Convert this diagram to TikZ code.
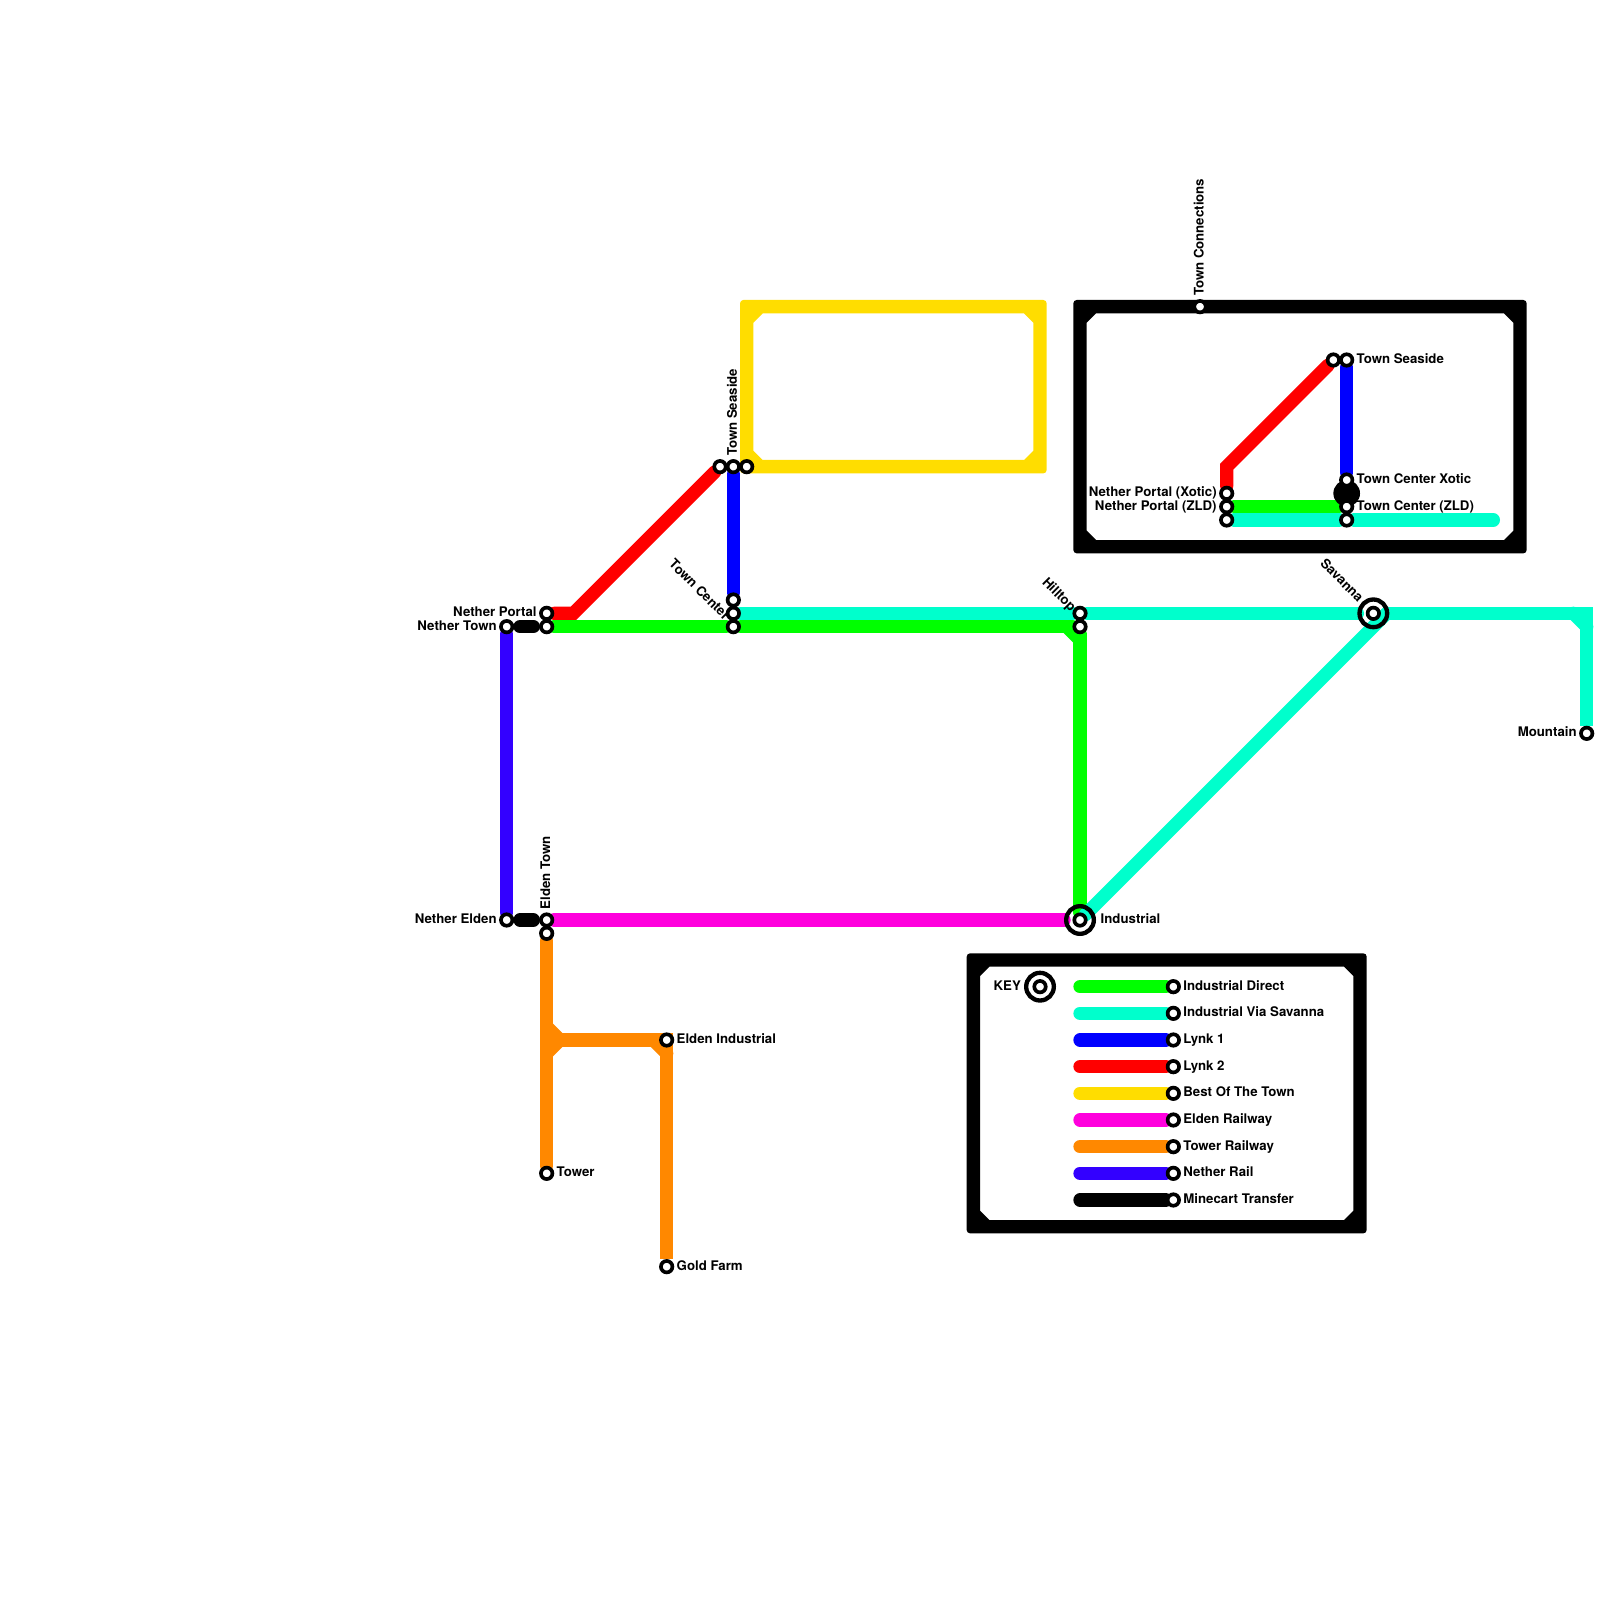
\documentclass[tikz,border=0pt]{standalone}
\usepackage{fontspec}
\setmainfont{TeX Gyre Heros}
\usetikzlibrary{positioning,backgrounds}
\definecolor{linedirect}{HTML}{00FF00}
\definecolor{linevia}{HTML}{00FFCC}
\definecolor{linelynkone}{HTML}{0000FF}
\definecolor{linelynktwo}{HTML}{FF0000}
\definecolor{linebest}{HTML}{FFDD00}
\definecolor{lineelden}{HTML}{FF00DD}
\definecolor{linetower}{HTML}{FF8800}
\definecolor{linenether}{HTML}{3300FF}
\tikzset{
  station/.style={circle,draw=black,fill=white,line width=0.055cm,minimum size=0.172cm,inner sep=0pt},
  bigstation/.style={circle,draw=black,line width=0.065cm,minimum size=0.415cm,inner sep=0pt},
  stationtext/.style={font=\bfseries\fontsize{5.65}{6}\selectfont,inner sep=0pt,text height=4pt,text depth=1pt},
  metroline/.style={line width=2mm,line cap=round,line join=miter},
  framebox/.style={even odd rule,rounded corners=0.05cm},
  node distance=0.03cm,
}

\begin{document}
\begin{tikzpicture}[x=0.2cm,y=-0.2cm]
\useasboundingbox (0,0) rectangle (120,120);

% Nether side
\node[station] (ntown) at (38,47) {};
\node[station] (nelden) at (38,69) {};
\node[station] (nportal) at (41,46) {};
\node[station] (nportalb) at (41,47) {};
\node[station] (etown) at (41,69) {};
\node[station] (etownb) at (41,70) {};
\coordinate (ntransa) at (39,47);
\coordinate (ntransb) at (40,47);
\coordinate (etransa) at (39,69);
\coordinate (etransb) at (40,69);

% Tower railway stops
\node[station] (tower) at (41,88) {};
\node[station] (eind) at (50,78) {};
\node[station] (gold) at (50,95) {};

% Town stops on the main map
\node[station] (tsred) at (54,35) {};
\node[station] (tsblue) at (55,35) {};
\node[station] (tsbest) at (56,35) {};
\node[station] (tcblue) at (55,45) {};
\node[station] (tcvia) at (55,46) {};
\node[station] (tcdirect) at (55,47) {};

% East side
\node[station] (hilla) at (81,46) {};
\node[station] (hillb) at (81,47) {};
\node[station] (indust) at (81,69) {};
\node[bigstation] (industring) at (indust) {};
\node[station] (savanna) at (103,46) {};
\node[bigstation] (savannaring) at (savanna) {};
\node[station] (mountain) at (119,55) {};
\coordinate (viajoin) at (104,46);

% Town connections inset
\node[station] (tconn) at (90,23) {};
\node[station] (npx) at (92,37) {};
\node[station] (npz) at (92,38) {};
\node[station] (npv) at (92,39) {};
\node[station] (isred) at (100,27) {};
\node[station] (isblue) at (101,27) {};
\node[station] (icx) at (101,36) {};
\node[station] (icz) at (101,38) {};
\node[station] (icv) at (101,39) {};
\coordinate (viaend) at (112,39);

% Labels, left side
\node[stationtext,left=of nportal] (nportaltext) {Nether Portal};
\node[stationtext,left=of ntown] (ntowntext) {Nether Town};
\node[stationtext,left=of nelden] (neldentext) {Nether Elden};
\node[stationtext,rotate=90,anchor=west] (etowntext) at ([yshift=0.04cm]etown.north) {Elden Town};
\node[stationtext,right=of tower] (towertext) {Tower};
\node[stationtext,right=of eind] (eindtext) {Elden Industrial};
\node[stationtext,right=of gold] (goldtext) {Gold Farm};
\node[stationtext,rotate=90,anchor=west] (tstext) at ([yshift=0.04cm]tsblue.north) {Town Seaside};
\node[stationtext,rotate=-45,anchor=east] (tctext) at ([shift={(-0.095cm,-0.08cm)}]tcvia.center) {Town Center};
\node[stationtext,rotate=-45,anchor=east] (hilltext) at ([shift={(-0.1cm,0.05cm)}]hilla.center) {Hilltop};
\node[stationtext,rotate=-45,anchor=east] (savtext) at ([shift={(-0.19cm,0.19cm)}]savanna.center) {Savanna};
\node[stationtext,right=0.19cm of indust] (industtext) {Industrial};
\node[stationtext,left=of mountain] (mountaintext) {Mountain};

% Labels, inset
\node[stationtext,rotate=90,anchor=west] (tconntext) at ([yshift=0.04cm]tconn.north) {Town Connections};
\node[stationtext,left=of npx] (npxtext) {Nether Portal (Xotic)};
\node[stationtext,left=of npz] (npztext) {Nether Portal (ZLD)};
\node[stationtext,right=of isblue] (isbluetext) {Town Seaside};
\node[stationtext,right=of icx] (icxtext) {Town Center Xotic};
\node[stationtext,right=of icz] (icztext) {Town Center (ZLD)};

% Key stations and their names
\node[station] (keyicon) at (78,74) {};
\node[bigstation] (keyring) at (keyicon) {};
\node[stationtext,left=0.04cm of keyring] (keytext) {KEY};
\foreach \name/\row/\txt in {direct/74/Industrial Direct,via/76/Industrial Via Savanna,one/78/Lynk 1,two/80/Lynk 2,best/82/Best Of The Town,elden/84/Elden Railway,tow/86/Tower Railway,neth/88/Nether Rail,cart/90/Minecart Transfer} {
  \coordinate (k\name) at (81,\row);
  \node[station] (s\name) at (88,\row) {};
  \node[stationtext,right=of s\name] (t\name) {\txt};
}

\begin{scope}[on background layer]
% Frames (nearly square outside, cut corners inside)
\fill[framebox] (80.5,22.5) rectangle (114.5,41.5) [sharp corners]
  (81.5,24.2) -- (82.2,23.5) -- (112.8,23.5) -- (113.5,24.2) -- (113.5,39.8) -- (112.8,40.5) -- (82.2,40.5) -- (81.5,39.8) -- cycle;
\fill[framebox] (72.5,71.5) rectangle (102.5,92.5) [sharp corners]
  (73.5,73.2) -- (74.2,72.5) -- (100.8,72.5) -- (101.5,73.2) -- (101.5,90.8) -- (100.8,91.5) -- (74.2,91.5) -- (73.5,90.8) -- cycle;

% Best Of The Town
\fill[framebox,fill=linebest] (55.5,22.5) rectangle (78.5,35.5) [sharp corners]
  (56.5,24.2) -- (57.2,23.5) -- (76.8,23.5) -- (77.5,24.2) -- (77.5,33.8) -- (76.8,34.5) -- (57.2,34.5) -- (56.5,33.8) -- cycle;

% Lynk 1 and 2
\draw[metroline,draw=linelynkone] (tsblue) -- (tcblue);
\draw[metroline,draw=linelynktwo] (nportal) -- (43,46) -- (tsred);
\draw[metroline,draw=linelynkone] (isblue) -- (icx);
\draw[metroline,draw=linelynktwo] (npx) -- (92,35) -- (isred);

% Industrial Direct
\draw[metroline,draw=linedirect] (nportalb) -- (tcdirect) -- (hillb);
\draw[metroline,draw=linedirect] (hillb) -- (indust);
\draw[metroline,draw=linedirect] (80,47) -- (81,48);
\draw[metroline,draw=linedirect] (npz) -- (icz);

% Industrial Via Savanna
\draw[metroline,draw=linevia] (tcvia) -- (hilla) -- (savannaring);
\draw[metroline,draw=linevia,line cap=butt] (savannaring) -- (119,46) -- (mountain);
\draw[metroline,draw=linevia] (118,46) -- (119,47);
\draw[metroline,draw=linevia] (viajoin) -- (indust);
\draw[metroline,draw=linevia] (npv) -- (icv) -- (viaend);

% Elden, Tower, Nether
\draw[metroline,draw=lineelden] (etown) -- (industring);
\draw[metroline,draw=linetower] (etownb) -- (tower);
\draw[metroline,draw=linetower,line cap=butt] (41,78) -- (50,78) -- (gold);
\draw[metroline,draw=linetower] (41,77) -- (42,78) -- (41,79);
\draw[metroline,draw=linetower] (49,78) -- (50,79);
\draw[metroline,draw=linenether] (ntown) -- (nelden);

% Minecart transfers
\draw[metroline] (ntransa) -- (ntransb);
\draw[metroline] (etransa) -- (etransb);
\fill (101,37) circle (1);

% Key lines
\foreach \name/\col in {direct/linedirect,via/linevia,one/linelynkone,two/linelynktwo,best/linebest,elden/lineelden,tow/linetower,neth/linenether,cart/black} {
  \draw[metroline,draw=\col] (k\name) -- (s\name);
}
\end{scope}
\end{tikzpicture}
\end{document}
